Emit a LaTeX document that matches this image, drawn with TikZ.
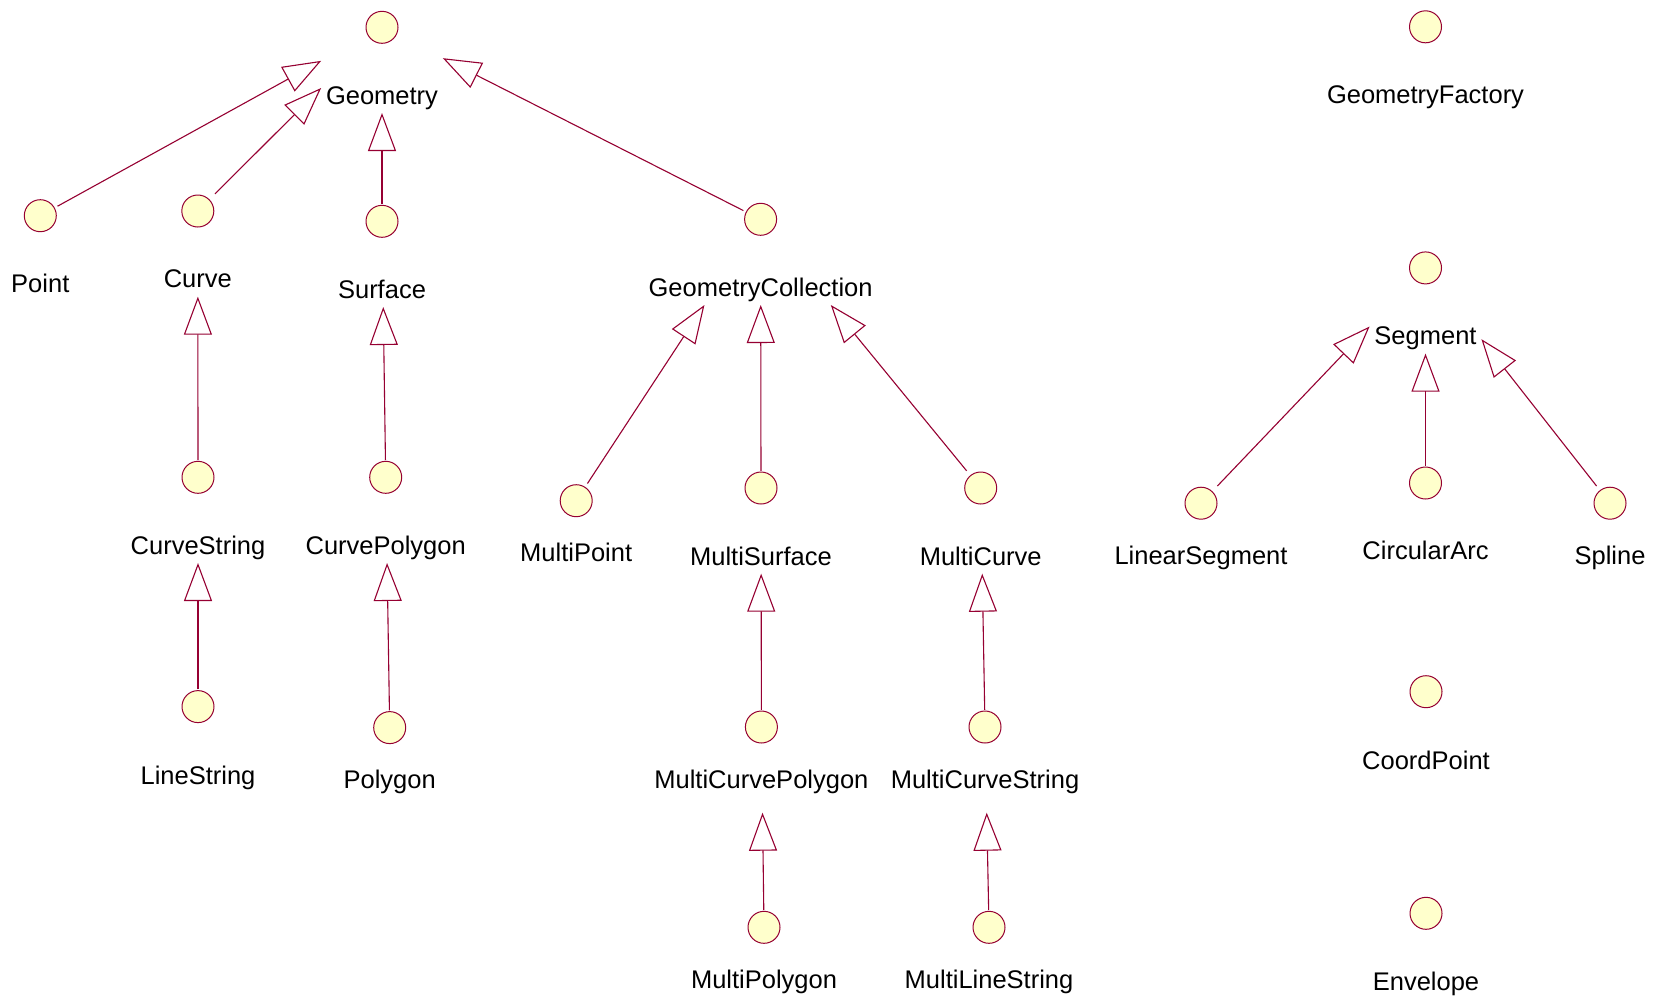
\documentclass[tikz,border=0pt]{standalone}
\usepackage{fontspec}
\setmainfont{Liberation Sans}
\usetikzlibrary{arrows.meta,fit,intersections}

\definecolor{umlred}{RGB}{150,0,50}
\definecolor{iconfill}{RGB}{255,255,204}

\tikzset{
  icon/.style={rectangle, minimum size=34pt, inner sep=0pt,
    path picture={\draw[umlred, fill=iconfill, line width=1pt]
      (path picture bounding box.center) circle (16pt);}},
  lbl/.style={anchor=base, inner sep=0pt, text=black,
    font=\fontsize{25.5}{30}\selectfont},
  clsbox/.style={rectangle, inner xsep=4.5pt, inner ysep=0pt, draw=none},
  genline/.style={draw=umlred, line width=1.1pt,
    -{Triangle[open, length=38pt, width=28pt, line width=1.1pt]}}
}

% class: name, x, y of icon, y of label baseline, label text
\newcommand\umlclass[5]{%
  \node[icon] (c-#1) at (#2,#3) {};
  \node[lbl] (l-#1) at (#2,#4) {#5};
  \coordinate (b-#1) at (#2,#3+85.5);
  \node[clsbox, fit=(c-#1.north)(l-#1)(b-#1)] (#1) {};
  \path[name path=box-#1] (#1.south west) rectangle (#1.north east);
}

% generalization: child, parent
\newcommand\generalize[2]{%
  \path[name path=gen-#1] (c-#1.center) -- (c-#2.center);
  \path[name intersections={of=gen-#1 and box-#2, by={e-#1}}];
  \draw[genline] (c-#1) -- (e-#1);
}

\begin{document}
\begin{tikzpicture}[x=1pt,y=-1pt]
  \fill[white] (0,0) rectangle (1656,999);
  \useasboundingbox (0,0) rectangle (1656,999);

  % geometry hierarchy
  \umlclass{geometry}{382}{27.3}{104.3}{Geometry}
  \umlclass{point}{40.3}{215.7}{292.7}{Point}
  \umlclass{curve}{197.8}{211}{287.3}{Curve}
  \umlclass{surface}{382}{221.3}{298.3}{Surface}
  \umlclass{geomcoll}{760.6}{219.3}{296.7}{GeometryCollection}
  \umlclass{curvestring}{198}{477.3}{554.4}{CurveString}
  \umlclass{curvepolygon}{385.7}{477.3}{554.4}{CurvePolygon}
  \umlclass{linestring}{198}{706.6}{784.1}{LineString}
  \umlclass{polygon}{389.7}{727.6}{788.6}{Polygon}
  \umlclass{multipoint}{576.2}{500.7}{561.7}{MultiPoint}
  \umlclass{multisurface}{761}{488}{565}{MultiSurface}
  \umlclass{multicurve}{980.7}{488}{565}{MultiCurve}
  \umlclass{multicurvepolygon}{761.4}{727}{788.3}{MultiCurvePolygon}
  \umlclass{multicurvestring}{985}{727}{788.3}{MultiCurveString}
  \umlclass{multipolygon}{764}{927.3}{988.3}{MultiPolygon}
  \umlclass{multilinestring}{989}{927.3}{988.3}{MultiLineString}

  % factory, segments and helpers
  \umlclass{geomfactory}{1425.5}{26.8}{103.3}{GeometryFactory}
  \umlclass{segment}{1425.5}{267.9}{344.4}{Segment}
  \umlclass{linearsegment}{1201}{503.2}{564.5}{LinearSegment}
  \umlclass{circulararc}{1425.5}{483}{559.5}{CircularArc}
  \umlclass{spline}{1610}{503.2}{564.5}{Spline}
  \umlclass{coordpoint}{1426}{691.7}{769}{CoordPoint}
  \umlclass{envelope}{1426}{913.3}{990.7}{Envelope}

  % inheritance
  \generalize{point}{geometry}
  \generalize{curve}{geometry}
  \generalize{surface}{geometry}
  \generalize{geomcoll}{geometry}
  \generalize{curvestring}{curve}
  \generalize{linestring}{curvestring}
  \generalize{curvepolygon}{surface}
  \generalize{polygon}{curvepolygon}
  \generalize{multipoint}{geomcoll}
  \generalize{multisurface}{geomcoll}
  \generalize{multicurve}{geomcoll}
  \generalize{multicurvepolygon}{multisurface}
  \generalize{multipolygon}{multicurvepolygon}
  \generalize{multicurvestring}{multicurve}
  \generalize{multilinestring}{multicurvestring}
  \generalize{linearsegment}{segment}
  \generalize{circulararc}{segment}
  \generalize{spline}{segment}
\end{tikzpicture}
\end{document}
